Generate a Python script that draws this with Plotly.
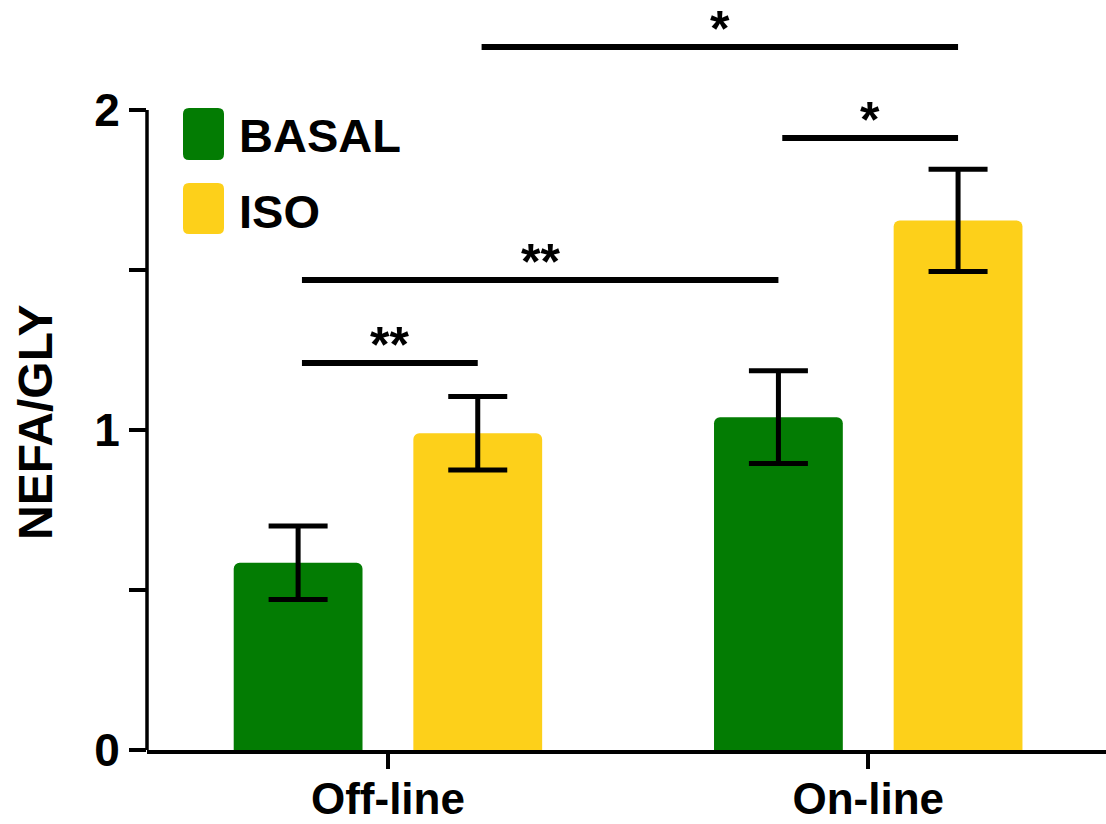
import plotly.graph_objects as go

# ---- data ----
groups = ["Off-line", "On-line"]
series_names = ["BASAL", "ISO"]
basal_mean = [0.585, 1.04]
basal_err = [0.115, 0.145]
iso_mean = [0.99, 1.655]
iso_err = [0.115, 0.16]
y_tickvals = [0, 0.5, 1, 1.5, 2]
y_ticktext = ["0", "", "1", "", "2"]

# significance brackets: (group_a, series_a, group_b, series_b, label)
brackets = [
    (0, 0, 0, 1, "**"),
    (0, 0, 1, 0, "**"),
    (1, 0, 1, 1, "*"),
    (0, 1, 1, 1, "*"),
]
bracket_heights = [1.209, 1.469, 1.9125, 2.197]

# ---- style ----
GREEN = "#037c03"
YELLOW = "#fdd01a"
FONT = "Liberation Sans, Arial, sans-serif"
W, H = 1106, 824
ML, MR, MT, MB = 147, 0, 30, 74
BARGAP = 0.252
BARGROUPGAP = 0.283
PW = W - ML - MR
PH = H - MT - MB


def px2x(px):
    return (px - ML) / PW


def py2y(py):
    return (H - MB - py) / PH


fig = go.Figure()
colors = [GREEN, YELLOW]
means = [basal_mean, iso_mean]
errs = [basal_err, iso_err]
for name, col, m, e in zip(series_names, colors, means, errs):
    fig.add_trace(go.Bar(
        x=groups, y=m, name=name, showlegend=False, hoverinfo="skip",
        marker=dict(color=col, cornerradius=6, line=dict(width=0)),
        error_y=dict(type="data", array=e, color="black", thickness=5, width=29.5),
    ))

# bracket lines and stars
slot = (1 - BARGAP) / 2


def bar_center(g, s):
    return g + (s - 0.5) * slot


shapes = []
annotations = []
for (ga, sa, gb, sb, lab), yv in zip(brackets, bracket_heights):
    xa = bar_center(ga, sa) + 0.008
    xb = bar_center(gb, sb)
    shapes.append(dict(type="line", xref="x", yref="y", x0=xa, x1=xb, y0=yv, y1=yv,
                       line=dict(color="black", width=6)))
    annotations.append(dict(x=(xa + xb) / 2, y=yv, xref="x", yref="y", text=lab,
                            showarrow=False, yanchor="bottom", yshift=-12,
                            font=dict(family=FONT, size=50, color="black", weight="bold")))

# y axis line from 0 to 2
shapes.append(dict(type="line", xref="paper", yref="y", x0=0, x1=0, y0=0, y1=2,
                   line=dict(color="black", width=3.5)))

# custom legend
legend_boxes = [(183, 224, 108, 160), (183, 224, 183, 234)]
legend_text_y = [135, 211]
r_x = 6 / PW
r_y = 6 / PH
for name, col, (x0p, x1p, y0p, y1p), ty in zip(series_names, colors, legend_boxes, legend_text_y):
    x0, x1 = px2x(x0p), px2x(x1p)
    yt, yb = py2y(y0p), py2y(y1p)
    path = (f"M {x0 + r_x},{yb} L {x1 - r_x},{yb} Q {x1},{yb} {x1},{yb + r_y} "
            f"L {x1},{yt - r_y} Q {x1},{yt} {x1 - r_x},{yt} "
            f"L {x0 + r_x},{yt} Q {x0},{yt} {x0},{yt - r_y} "
            f"L {x0},{yb + r_y} Q {x0},{yb} {x0 + r_x},{yb} Z")
    shapes.append(dict(type="path", xref="paper", yref="paper", path=path,
                       fillcolor=col, line=dict(width=0)))
    annotations.append(dict(x=px2x(237), y=py2y(ty), xref="paper", yref="paper",
                            text=name, showarrow=False, xanchor="left", yanchor="middle",
                            font=dict(family=FONT, size=47, color="black", weight="bold")))

# y axis title
annotations.append(dict(x=px2x(35), y=py2y(422), xref="paper", yref="paper",
                        text="NEFA/GLY", textangle=-90, showarrow=False,
                        xanchor="center", yanchor="middle",
                        font=dict(family=FONT, size=48, color="black", weight="bold")))

fig.update_layout(
    template="none",
    width=W, height=H,
    margin=dict(l=ML, r=MR, t=MT, b=MB, pad=0, autoexpand=False),
    paper_bgcolor="white", plot_bgcolor="white",
    barmode="group", bargap=BARGAP, bargroupgap=BARGROUPGAP,
    shapes=shapes, annotations=annotations,
    font=dict(family=FONT, color="black"),
    xaxis=dict(
        automargin=False,
        range=[-0.5016, 1.495], showline=True, linecolor="black", linewidth=3.5,
        ticks="outside", ticklen=15, tickwidth=3.5, tickcolor="black",
        showgrid=False, zeroline=False, ticklabelstandoff=-7,
        tickfont=dict(family=FONT, size=44, color="black", weight="bold"),
    ),
    yaxis=dict(
        automargin=False,
        range=[0, 2.25], showline=False, showgrid=False, zeroline=False,
        tickmode="array", tickvals=y_tickvals, ticktext=y_ticktext,
        ticks="outside", ticklen=17, tickwidth=3.5, tickcolor="black",
        tickfont=dict(family=FONT, size=46, color="black", weight="bold"),
    ),
)

fig.write_html(
    "out.html",
    config={"displayModeBar": False, "staticPlot": True},
    post_script="document.body.style.margin='0';document.body.style.overflow='hidden';",
)
